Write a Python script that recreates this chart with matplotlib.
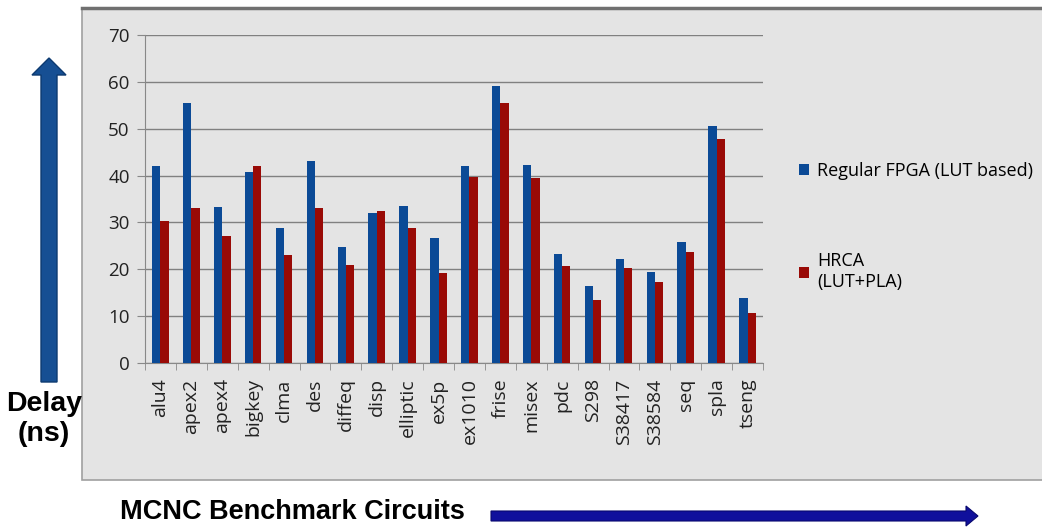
import numpy as np
import matplotlib
matplotlib.use("Agg")
import matplotlib.pyplot as plt
import matplotlib.patches as mpatches
from matplotlib.transforms import Affine2D

# data
circuits = ["alu4", "apex2", "apex4", "bigkey", "clma", "des", "diffeq", "disp",
            "elliptic", "ex5p", "ex1010", "frise", "misex", "pdc", "S298",
            "S38417", "S38584", "seq", "spla", "tseng"]
fpga = [42.0, 55.5, 33.3, 40.8, 28.9, 43.2, 24.8, 32.1, 33.5, 26.7,
        42.1, 59.2, 42.3, 23.3, 16.4, 22.2, 19.5, 25.8, 50.6, 13.9]
hrca = [30.4, 33.1, 27.0, 42.1, 23.1, 33.1, 21.0, 32.4, 28.9, 19.2,
        39.7, 55.4, 39.5, 20.7, 13.4, 20.3, 17.3, 23.6, 47.9, 10.7]
yticks = [0, 10, 20, 30, 40, 50, 60, 70]

W, H = 1042, 527
fig = plt.figure(figsize=(W / 100, H / 100), dpi=100)
px = Affine2D().scale(1 / 100) + fig.dpi_scale_trans  # pixel coords, origin bottom-left

def fy(y_top):
    return H - y_top

# gray panel behind the chart
panel = mpatches.Rectangle((82, fy(480)), W - 82 + 5, 480 - 8, transform=px,
                           facecolor="#e4e4e4", edgecolor="#a0a0a0", lw=1.2, zorder=-2)
fig.patches.append(panel)
fig.add_artist(plt.Line2D([82, W], [fy(8), fy(8)], transform=px, color="#707070", lw=2.5, zorder=-1))

ax = fig.add_axes([145 / W, fy(363) / H, (763 - 145) / W, (363 - 35) / H])
ax.set_facecolor("none")
x = np.arange(len(circuits))
bw = 0.27
ax.bar(x - bw / 2, fpga, bw, color="#0b4a96", label="Regular FPGA (LUT based)", zorder=3)
ax.bar(x + bw / 2, hrca, bw, color="#990a06", label="HRCA\n(LUT+PLA)", zorder=3)

ax.set_xlim(-0.5, len(circuits) - 0.5)
ax.set_ylim(0, 70)
ax.set_yticks(yticks)
ax.yaxis.grid(True, color="#808080", lw=1.0, zorder=0)
ax.set_axisbelow(True)
for s in ["top", "right"]:
    ax.spines[s].set_visible(False)
for s in ["left", "bottom"]:
    ax.spines[s].set_color("#888888")
ax.set_xticks(x)
ax.set_xticklabels(circuits, rotation=90, fontsize=14, family="Open Sans", color="#222222")
ax.tick_params(axis="x", length=0, pad=11)
ax.set_xticks(np.arange(-0.5, len(circuits)), minor=True)
ax.tick_params(axis="x", which="minor", length=5, color="#888888")
ax.tick_params(axis="y", length=6, color="#888888", labelsize=13.5, pad=5)
for t in ax.get_yticklabels():
    t.set_family("Open Sans")
    t.set_color("#222222")

ax.legend(loc="upper left", bbox_to_anchor=(783 / W, fy(146) / H),
          bbox_transform=fig.transFigure, frameon=False,
          handlelength=0.55, handleheight=0.55, handletextpad=0.45, labelspacing=4.0,
          prop={"family": "Open Sans", "size": 13})

# axis arrows and labels
fig.patches.append(mpatches.FancyArrow(49, fy(382), 0, 382 - 58 - 17, width=16,
                                       head_width=34, head_length=17,
                                       transform=px, facecolor="#164f93", edgecolor="#0d3a70", lw=1))
fig.patches.append(mpatches.FancyArrow(491, fy(516), 978 - 491 - 12, 0, width=10,
                                       head_width=20, head_length=12,
                                       transform=px, facecolor="#10109c", edgecolor="#08086e", lw=0.8))
fig.text(44 / W, fy(404) / H, "Delay", ha="center", va="center", fontsize=20.5,
         fontweight="bold", family="Liberation Sans")
fig.text(44 / W, fy(434) / H, "(ns)", ha="center", va="center", fontsize=20.5,
         fontweight="bold", family="Liberation Sans")
fig.text(120 / W, fy(512) / H, "MCNC Benchmark Circuits", ha="left", va="center",
         fontsize=19.5, fontweight="bold", family="Liberation Sans")

fig.savefig("out.png", dpi=100, facecolor="white")
